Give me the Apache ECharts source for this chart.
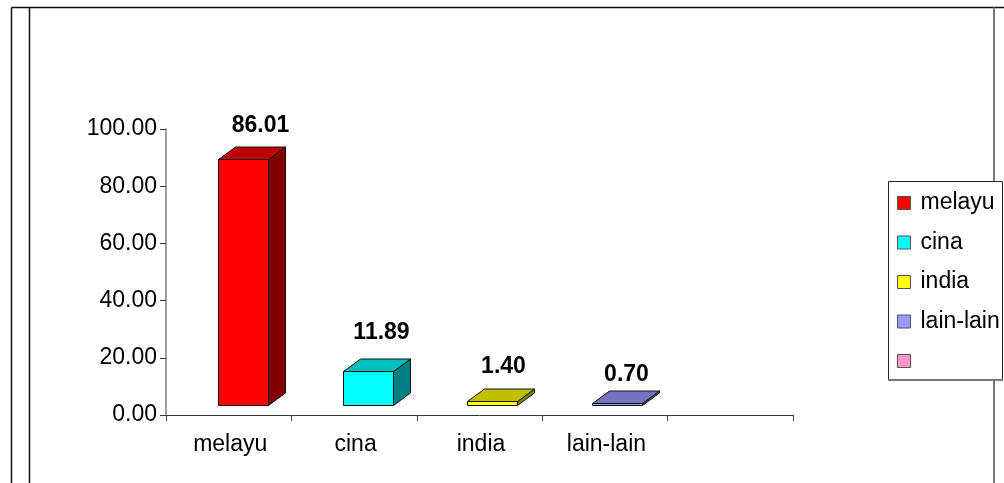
<!DOCTYPE html>
<html>
<head>
<meta charset="utf-8">
<style>html,body{margin:0;padding:0;background:#fff}#c{width:1004px;height:483px}</style>
<script src="https://cdn.jsdelivr.net/npm/echarts@6/dist/echarts.min.js"></script>
</head>
<body>
<div id="c"></div>
<script>
// Population share by ethnic group, drawn as pseudo-3D columns.
const categories = ['melayu', 'cina', 'india', 'lain-lain', ' '];
const seriesNames = ['melayu', 'cina', 'india', 'lain-lain', ' '];
const values = [86.01, 11.89, 1.40, 0.70];
const tickLabelDigits = 2;

// front, top and side face colours per group
const frontColors = ['#ff0000', '#00ffff', '#ffff00', '#9999ff', '#ff99cc'];
const topColors = ['#bf0000', '#00bfbf', '#bfbf00', '#7373bf', '#bf7399'];
const sideColors = ['#800000', '#008080', '#808000', '#4d4d80', '#804d66'];

// per-column horizontal offset of the front face from its category centre
const columnShift = [14, 14, 12, 12];
// value labels sit a little differently above each column: [dx from front centre, lift above back edge]
const labelShift = [[17, 21], [13, 26], [11, 22], [9, 16]];

const FONT = '"Liberation Sans", Arial, sans-serif';
const DEPTH_X = 17, DEPTH_Y = 12.5, FLOOR_RISE = 10, BAR_W = 50;

function column(idx) {
  return function (params, api) {
    const cat = api.value(0), val = api.value(1);
    const base = api.coord([cat, 0]);
    const top = api.coord([cat, val]);
    const x0 = Math.round(base[0] + columnShift[idx] - BAR_W / 2) + 0.5;
    const x1 = x0 + BAR_W;
    const y0 = Math.round(base[1] - FLOOR_RISE) + 0.5;
    const y1 = Math.round(top[1] - FLOOR_RISE) + 0.5;
    const dx = DEPTH_X, dy = DEPTH_Y;
    const edge = { stroke: '#111', lineWidth: 1 };
    const face = (pts, fill) => ({
      type: 'polygon', shape: { points: pts }, style: Object.assign({ fill }, edge)
    });
    return {
      type: 'group',
      children: [
        face([[x1, y0], [x1 + dx, y0 - dy], [x1 + dx, y1 - dy], [x1, y1]], sideColors[idx]),
        face([[x0, y1], [x0 + dx, y1 - dy], [x1 + dx, y1 - dy], [x1, y1]], topColors[idx]),
        face([[x0, y0], [x1, y0], [x1, y1], [x0, y1]], frontColors[idx]),
        {
          type: 'text',
          style: {
            x: (x0 + x1) / 2 + labelShift[idx][0],
            y: y1 - dy - labelShift[idx][1],
            text: val.toFixed(2),
            font: 'bold 23px ' + FONT,
            fill: '#000',
            align: 'center',
            verticalAlign: 'middle'
          }
        }
      ]
    };
  };
}

const series = seriesNames.map((name, i) => ({
  type: 'custom',
  name,
  color: frontColors[i],
  itemStyle: { color: frontColors[i] },
  renderItem: column(i),
  encode: { x: 0, y: 1 },
  clip: false,
  data: i < values.length ? [[i, values[i]]] : []
}));

// page frame lines behind the chart
const frameLines = [
  { pts: [[11.5, 7.5], [1004, 7.5]], color: '#111', width: 1.5 },
  { pts: [[11.5, 7.5], [11.5, 483]], color: '#111', width: 1.5 },
  { pts: [[29.5, 7.5], [29.5, 483]], color: '#111', width: 1.5 },
  { pts: [[994, 7.5], [994, 483]], color: '#777', width: 2 }
];

const chart = echarts.init(document.getElementById('c'), null, { renderer: 'canvas' });
chart.setOption({
  animation: false,
  backgroundColor: '#fff',
  textStyle: { fontFamily: FONT },
  grid: { left: 166, top: 129, width: 627, height: 286, containLabel: false },
  xAxis: {
    type: 'category',
    data: categories,
    boundaryGap: true,
    axisLine: { lineStyle: { color: '#333', width: 1 } },
    axisTick: { show: true, length: 6, alignWithLabel: false, interval: 0, lineStyle: { color: '#444' } },
    axisLabel: { interval: 0, color: '#000', fontSize: 23, margin: 18, padding: [0, 0, 0, 3], fontFamily: FONT }
  },
  yAxis: {
    type: 'value',
    min: 0,
    max: 100,
    interval: 20,
    splitLine: { show: false },
    axisLine: { show: true, lineStyle: { color: '#808080', width: 1.5 } },
    axisTick: { show: true, length: 6, lineStyle: { color: '#333' } },
    axisLabel: { color: '#000', fontSize: 23, margin: 9, padding: [5, 0, 0, 0], fontFamily: FONT,
      formatter: v => v.toFixed(tickLabelDigits) }
  },
  legend: {
    orient: 'vertical',
    left: 897,
    top: 191,
    padding: 0,
    itemWidth: 13,
    itemHeight: 13,
    itemGap: 15.5,
    icon: 'rect',
    z: 10,
    itemStyle: { borderColor: '#555', borderWidth: 1 },
    textStyle: { color: '#000', fontSize: 23, fontFamily: FONT, padding: [0, 0, 0, 5], lineHeight: 24 },
    data: seriesNames
  },
  graphic: {
    elements: frameLines.map(l => ({
      type: 'polyline', z: -1, silent: true,
      shape: { points: l.pts }, style: { stroke: l.color, lineWidth: l.width, fill: null }
    })).concat([{
      type: 'rect', z: 5, silent: true,
      shape: { x: 888.5, y: 181.5, width: 114, height: 198 },
      style: { fill: '#fff', stroke: '#222', lineWidth: 1 }
    }, {
      type: 'polyline', z: 6, silent: true,
      shape: { points: [[888, 380], [1003, 380]] },
      style: { stroke: '#777', lineWidth: 2, fill: null }
    }])
  },
  series
});
</script>
</body>
</html>
